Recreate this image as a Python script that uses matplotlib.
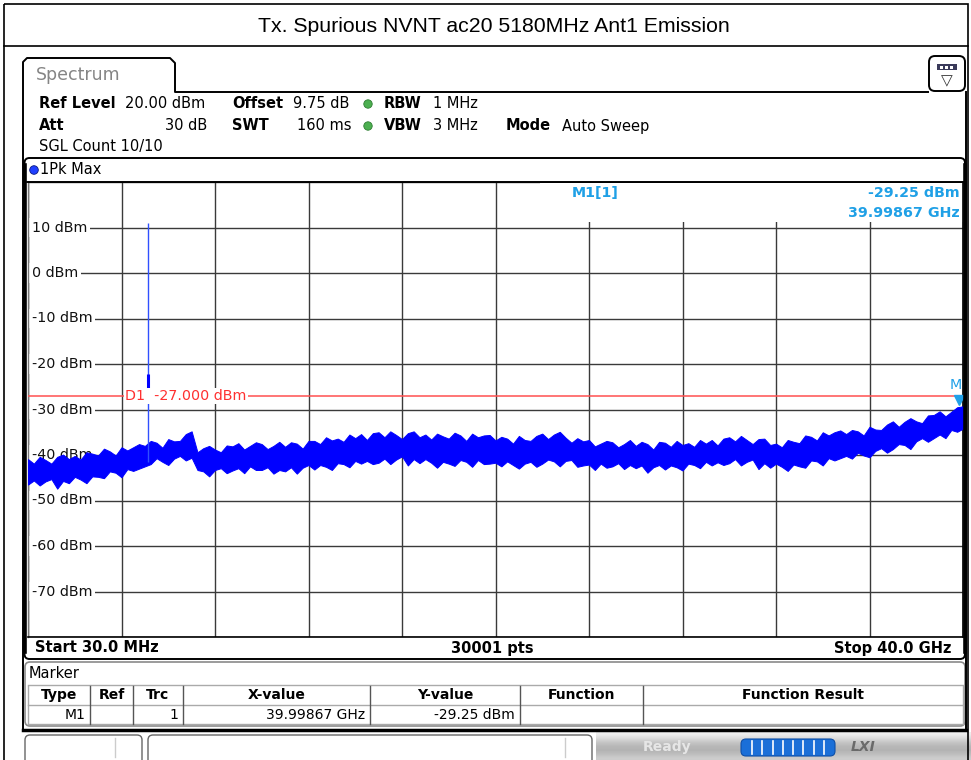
import numpy as np
import matplotlib
matplotlib.use('Agg')
import matplotlib.pyplot as plt
from matplotlib.patches import FancyBboxPatch, Rectangle, Circle
from matplotlib import transforms

# ---- sweep / trace data ----
start_ghz = 0.03
stop_ghz = 40.0
ref_level = 20
bottom_level = -80

# upper / lower envelope of the max-hold trace, one value every ~0.25 GHz
trace_hi = [
    -40.9, -41.9, -40.4, -41.1, -41.9, -40.4, -39.9, -40.9, -40.2, -41.0,
    -39.4, -39.7, -40.1, -38.6, -39.2, -40.1, -38.3, -39.0, -38.3, -37.6,
    -38.0, -36.9, -37.3, -38.4, -36.5, -37.0, -36.9, -35.4, -34.8, -39.4,
    -38.5, -38.0, -38.8, -39.4, -37.9, -38.1, -37.4, -38.8, -38.0, -37.2,
    -37.6, -38.7, -38.0, -37.1, -38.2, -37.2, -37.5, -38.6, -36.9, -36.9,
    -37.6, -36.1, -36.8, -36.4, -37.1, -35.5, -36.3, -35.4, -36.7, -35.2,
    -35.0, -36.1, -34.8, -35.6, -36.5, -35.2, -34.8, -36.1, -35.5, -36.6,
    -35.3, -35.9, -36.4, -35.1, -35.7, -36.9, -35.3, -36.1, -35.7, -35.6,
    -36.8, -36.0, -36.4, -37.5, -35.8, -36.7, -36.9, -35.8, -35.3, -36.5,
    -35.5, -34.9, -36.2, -37.3, -36.3, -37.0, -36.7, -38.1, -37.5, -36.9,
    -37.2, -38.3, -37.6, -36.7, -38.0, -37.1, -37.6, -38.8, -37.1, -37.3,
    -38.2, -36.9, -37.8, -37.4, -38.2, -36.7, -37.5, -36.7, -37.9, -36.4,
    -36.1, -37.0, -35.8, -36.7, -37.6, -36.5, -36.4, -37.8, -37.5, -38.3,
    -36.7, -37.1, -37.4, -35.7, -36.0, -36.8, -35.0, -35.7, -35.0, -34.6,
    -35.4, -34.5, -34.8, -35.7, -33.8, -34.4, -34.5, -33.3, -32.6, -33.8,
    -32.7, -31.9, -32.6, -33.0, -31.3, -31.2, -30.4, -31.5, -30.5, -29.5,
    -29.3,
]
trace_lo = [
    -46.5, -45.6, -46.7, -45.8, -45.3, -47.4, -45.7, -46.2, -44.8, -45.4,
    -46.2, -44.7, -44.8, -45.1, -43.6, -43.9, -44.9, -43.1, -43.5, -43.0,
    -42.5, -42.0, -40.7, -41.5, -42.2, -40.8, -40.2, -41.2, -40.6, -43.3,
    -43.6, -44.7, -43.3, -42.9, -44.0, -43.4, -42.9, -44.0, -42.5, -43.3,
    -43.3, -42.7, -44.1, -43.3, -43.6, -42.7, -44.1, -42.8, -42.2, -43.2,
    -42.2, -42.6, -43.3, -41.8, -42.0, -42.7, -41.3, -41.9, -41.3, -42.0,
    -41.7, -40.8, -42.0, -41.0, -40.3, -42.3, -40.9, -41.8, -40.9, -41.7,
    -42.8, -41.5, -41.9, -42.4, -41.1, -41.5, -42.6, -41.1, -42.0, -41.9,
    -41.7, -42.5, -41.4, -42.2, -43.0, -41.9, -41.5, -42.6, -41.9, -41.0,
    -41.4, -42.5, -41.3, -41.1, -42.6, -42.3, -42.1, -43.3, -41.9, -42.8,
    -42.5, -41.8, -43.1, -42.2, -42.9, -42.3, -43.9, -42.7, -42.2, -43.2,
    -42.3, -42.7, -43.4, -41.9, -42.2, -42.9, -41.5, -42.3, -41.6, -42.2,
    -41.8, -40.9, -42.3, -41.5, -41.0, -43.1, -41.8, -42.8, -41.9, -42.6,
    -43.5, -42.1, -42.5, -42.8, -41.2, -41.4, -42.3, -40.7, -41.2, -40.7,
    -40.2, -40.8, -39.5, -40.1, -40.5, -39.1, -38.5, -39.5, -38.7, -37.6,
    -37.8, -38.7, -37.0, -36.3, -37.1, -36.3, -35.5, -36.3, -34.5, -34.9,
    -34.2,
]

spike_freq = 5.18
spike_peak = 10.9
spike_base = -41.5

marker_freq = 39.99867
marker_level = -29.25
d1_level = -27.0
y_levels = [10, 0, -10, -20, -30, -40, -50, -60, -70]

table_cols = ["Type", "Ref", "Trc", "X-value", "Y-value", "Function", "Function Result"]
table_row = ["M1", "", "1", "39.99867 GHz", "-29.25 dBm", "", ""]

W, H = 971, 760
fig = plt.figure(figsize=(W / 100, H / 100), dpi=100)

# ---- spectrum diagram (data coordinates) ----
ax = fig.add_axes([28 / W, 1 - 637 / H, 935 / W, 455 / H], zorder=2)
ax.set_xlim(start_ghz, stop_ghz)
ax.set_ylim(bottom_level, ref_level)
ax.set_xticks(np.linspace(start_ghz, stop_ghz, 11))
ax.set_yticks(np.arange(bottom_level, ref_level + 1, 10))
ax.tick_params(length=0, labelbottom=False, labelleft=False)
ax.grid(True, color='#3a3a3a', lw=1.0)
ax.set_axisbelow(True)
for side in ['top', 'bottom', 'right']:
    ax.spines[side].set_color('black')
    ax.spines[side].set_linewidth(1.2)
ax.spines['left'].set_color('#777777')
ax.spines['left'].set_linewidth(1.0)

# level labels sit inside the grid
for lv in y_levels:
    ax.text(0.2, lv, f"{lv} dBm", fontsize=10.3, color='#111111', va='center', ha='left',
            bbox=dict(facecolor='white', edgecolor='none', pad=2.0), zorder=2.2)

# marker readout area hides the grid
ax.add_patch(Rectangle((21.9, 11.2), stop_ghz - 21.9, 8.6, facecolor='white', edgecolor='none', zorder=2.1))

freq = np.linspace(start_ghz, stop_ghz, len(trace_hi))
ax.fill_between(freq, trace_lo, trace_hi, color='#0000ff', edgecolor='#0000ff', lw=0.7, zorder=3)
ax.vlines(spike_freq, spike_base, spike_peak, color='#3050ff', lw=1.0, zorder=3)
ax.vlines(spike_freq, -25.6, -22.2, color='#0000ff', lw=2.2, zorder=3)

ax.axhline(d1_level, color='#ff5050', lw=1.1, zorder=2.6)
ax.text(4.18, d1_level, "D1  -27.000 dBm", fontsize=10.3, color='#ff3030', va='center', ha='left',
        bbox=dict(facecolor='white', edgecolor='none', pad=0.8), zorder=4)

tri = transforms.offset_copy(ax.transData, fig=fig, x=-4, y=6, units='dots')
ax.plot([marker_freq], [marker_level], marker='v', ms=7, color='#20a0e8', transform=tri,
        clip_on=False, zorder=5)
ax.text(stop_ghz, marker_level, "M", fontsize=10.3, color='#20a0e8', va='bottom', ha='right',
        transform=transforms.offset_copy(ax.transData, fig=fig, x=-1, y=14, units='dots'), zorder=5)

# ---- instrument chrome (pixel coordinates) ----
ov = fig.add_axes([0, 0, 1, 1], zorder=5)
ov.set_xlim(0, W)
ov.set_ylim(H, 0)
ov.axis('off')
ov.patch.set_alpha(0)

bg = fig.add_axes([0, 0, 1, 1], zorder=0)
bg.set_xlim(0, W)
bg.set_ylim(H, 0)
bg.axis('off')

# title block
ov.add_patch(Rectangle((3.5, 4), 964, 760, fill=False, edgecolor='black', lw=1.2))
ov.plot([3.5, 967.5], [46, 46], color='black', lw=1.2)
ov.text(494, 27, "Tx. Spurious NVNT ac20 5180MHz Ant1 Emission", fontsize=15.3,
        family='Liberation Sans', ha='center', va='center')

# window frame with Spectrum tab
ov.plot([23, 23, 27, 170, 175, 175, 928], [730, 62, 58, 58, 63, 92, 92], color='black', lw=1.4)
ov.plot([966, 966], [92, 730], color='black', lw=1.4)
ov.plot([23, 966], [730, 730], color='black', lw=2.5)
ov.text(36, 75, "Spectrum", fontsize=12.5, color='#858585', va='center')
ov.add_patch(FancyBboxPatch((929, 56), 36, 35, boxstyle='round,pad=0,rounding_size=6',
                            facecolor='white', edgecolor='black', lw=1.4))
ov.add_patch(Rectangle((937, 64), 20, 6, facecolor='#3a3a5a', edgecolor='none'))
for sq in (939.5, 944.5, 949.5):
    ov.add_patch(Rectangle((sq, 65.5), 3, 3, facecolor='white', edgecolor='none'))
ov.text(947, 81, "▽", fontsize=11, ha='center', va='center', color='#333333')

# settings block
hdr = dict(fontsize=10.5, va='center')
ov.text(39, 104, "Ref Level", weight='bold', **hdr)
ov.text(125, 104, "20.00 dBm", **hdr)
ov.text(232, 104, "Offset", weight='bold', **hdr)
ov.text(293, 104, "9.75 dB", **hdr)
ov.text(384, 104, "RBW", weight='bold', **hdr)
ov.text(433, 104, "1 MHz", **hdr)
ov.text(39, 126, "Att", weight='bold', **hdr)
ov.text(207, 126, "30 dB", ha='right', **hdr)
ov.text(232, 126, "SWT", weight='bold', **hdr)
ov.text(297, 126, "160 ms", **hdr)
ov.text(384, 126, "VBW", weight='bold', **hdr)
ov.text(433, 126, "3 MHz", **hdr)
ov.text(506, 126, "Mode", weight='bold', **hdr)
ov.text(562, 126, "Auto Sweep", **hdr)
ov.text(39, 147, "SGL Count 10/10", **hdr)
for yy in (104, 126):
    ov.add_patch(Circle((368, yy), 4.2, facecolor='#4caf50', edgecolor='#2e7d32', lw=0.6))

# diagram box
ov.add_patch(FancyBboxPatch((24.5, 158), 940.5, 501, boxstyle='round,pad=0,rounding_size=5',
                            fill=False, edgecolor='black', lw=1.4))
ov.plot([24.5, 24.5], [165, 652], color='black', lw=2.6)
ov.plot([965, 965], [165, 652], color='black', lw=2.6)
ov.plot([24.5, 965], [182, 182], color='black', lw=1.2)
ov.add_patch(Circle((34, 170), 4.3, facecolor='#1f3fff', edgecolor='#0a1a80', lw=0.6))
ov.text(40, 170, "1Pk Max", **hdr)

# marker readout
mk = dict(fontsize=10.3, color='#1fa0e6', weight='bold', va='center')
ov.text(572, 193, "M1[1]", **mk)
ov.text(960, 193, "-29.25 dBm", ha='right', **mk)
ov.text(960, 213, "39.99867 GHz", ha='right', **mk)

# bottom of diagram
ov.text(35, 648, "Start 30.0 MHz", weight='bold', **hdr)
ov.text(492, 648, "30001 pts", weight='bold', ha='center', **hdr)
ov.text(951, 648, "Stop 40.0 GHz", weight='bold', ha='right', **hdr)

# marker table
ov.add_patch(FancyBboxPatch((25, 662), 940, 64, boxstyle='round,pad=0,rounding_size=5',
                            fill=False, edgecolor='#8a8a8a', lw=1.2))
ov.text(29, 673, "Marker", **hdr)
col_edges = [28, 90, 133, 183, 370, 520, 643, 963]
ov.plot([28, 963], [685, 685], color='#aaaaaa', lw=1)
ov.plot([28, 963], [705, 705], color='#aaaaaa', lw=1)
ov.plot([28, 963], [724, 724], color='#aaaaaa', lw=1)
for cx in col_edges:
    ov.plot([cx, cx], [686, 724], color='#555555' if cx not in (28, 963) else '#aaaaaa', lw=1)
for i, name in enumerate(table_cols):
    cx = (col_edges[i] + col_edges[i + 1]) / 2
    ov.text(cx, 695, name, fontsize=10, weight='bold', ha='center', va='center')
for i, val in enumerate(table_row):
    if val:
        ov.text(col_edges[i + 1] - 5, 715, val, fontsize=10, ha='right', va='center')

# status bar
grad = np.array([[0.93], [0.86], [0.78], [0.72], [0.70], [0.74], [0.80]])
bg.imshow(np.repeat(grad, 2, axis=1), cmap='gray', vmin=0, vmax=1, aspect='auto',
          extent=(596, 971, 760, 732), interpolation='bilinear')
bg.set_xlim(0, W)
bg.set_ylim(H, 0)
ov.add_patch(FancyBboxPatch((25, 735), 117, 30, boxstyle='round,pad=0,rounding_size=5',
                            facecolor='white', edgecolor='#666666', lw=1))
ov.plot([115, 115], [738, 757], color='#cccccc', lw=1)
ov.add_patch(FancyBboxPatch((148, 735), 444, 30, boxstyle='round,pad=0,rounding_size=5',
                            facecolor='white', edgecolor='#666666', lw=1))
ov.plot([565, 565], [738, 757], color='#cccccc', lw=1)
ov.text(667, 747, "Ready", fontsize=10, weight='bold', color='#e6e6e6', ha='center', va='center')
ov.add_patch(FancyBboxPatch((741, 739), 94, 17, boxstyle='round,pad=0,rounding_size=5',
                            facecolor='#1a6fd8', edgecolor='#0d4fa8', lw=0.8))
for sx in np.linspace(752, 824, 8):
    ov.plot([sx, sx], [741, 754], color='white', lw=1.2)
ov.text(863, 747, "LXI", fontsize=10, weight='bold', style='italic', color='#6a6a6a',
        ha='center', va='center')

fig.savefig('out.png', dpi=100)
